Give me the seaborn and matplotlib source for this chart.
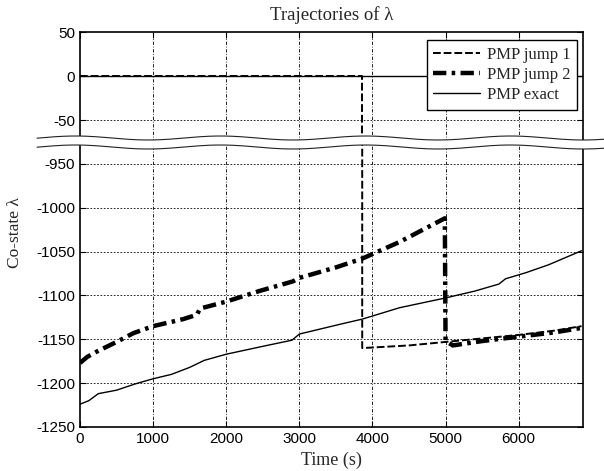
import numpy as np
import pandas as pd
import seaborn as sns
import matplotlib.pyplot as plt
from matplotlib.patches import Polygon
from matplotlib.lines import Line2D

# values
t_exact = [0, 120, 250, 500, 750, 1000, 1250, 1500, 1600, 1700, 2000, 2500, 2900, 3000,
           3300, 3600, 3860, 4370, 4990, 5400, 5730, 5820, 6100, 6410, 6860]
y_exact = [-1224, -1220, -1212, -1208, -1201, -1195, -1190, -1182, -1178, -1174, -1167, -1158, -1151, -1144,
           -1138, -1132, -1127, -1114, -1103, -1095, -1087, -1081, -1074, -1065, -1049]

t_jump1 = [0, 3860, 3860, 4500, 5000, 5500, 6000, 6500, 6860]
y_jump1 = [0, 0, -1160, -1157, -1153, -1149, -1145, -1140, -1135]

t_jump2 = [0, 100, 230, 500, 730, 1000, 1410, 1600, 1640, 2000, 2450, 2910, 3000, 3500, 3860,
           4370, 4600, 4990, 5000, 5100, 5500, 6000, 6500, 6860]
y_jump2 = [-1177, -1170, -1164, -1153, -1143, -1135, -1127, -1122, -1115, -1107, -1095, -1084, -1080, -1068, -1058,
           -1039, -1029, -1012, -1152, -1157, -1152, -1147, -1142, -1137]

x_ticks = [0, 1000, 2000, 3000, 4000, 5000, 6000]
top_ticks = [50, 0, -50]
bottom_ticks = [-950, -1000, -1050, -1100, -1150, -1200, -1250]

sns.set_style('ticks')
plt.rcParams['font.family'] = ['Liberation Sans', 'DejaVu Sans']
plt.rcParams['axes.unicode_minus'] = False
serif = ['Liberation Serif', 'DejaVu Serif']

fig = plt.figure(figsize=(6.04, 4.71), dpi=100)
L, R = 80 / 604, 583 / 604
y_top, y_mid, y_bot = 1 - 32 / 471, 1 - 142 / 471, 1 - 427 / 471
ax_top = fig.add_axes([L, y_mid, R - L, y_top - y_mid])
ax_bot = fig.add_axes([L, y_bot, R - L, y_mid - y_bot])

grid_h = dict(color='black', lw=0.6, ls=(0, (2, 2)))
grid_v = dict(color='black', lw=0.6, ls=(0, (4, 2, 1, 2)))

for ax in (ax_top, ax_bot):
    for xv in x_ticks[1:]:
        ax.axvline(xv, zorder=0, **grid_v)
    sns.lineplot(x=t_jump1, y=y_jump1, ax=ax, estimator=None, sort=False,
                 color='black', lw=1.4, ls=(0, (4, 1.5)), label='PMP jump 1', legend=False)
    sns.lineplot(x=t_jump2, y=y_jump2, ax=ax, estimator=None, sort=False,
                 color='black', lw=3.2, ls=(0, (3, 1.2, 0.8, 1.2)), label='PMP jump 2', legend=False)
    sns.lineplot(x=t_exact, y=y_exact, ax=ax, estimator=None, sort=False,
                 color='black', lw=1.0, label='PMP exact', legend=False)
    ax.set_xlim(0, 6880)
    ax.set_xlabel('')
    ax.set_ylabel('')
    ax.tick_params(direction='in', length=4, labelsize=11, colors='black')
    ax.tick_params(top=True, right=True)
    for s in ax.spines.values():
        s.set_linewidth(1.2)
        s.set_color('black')

# exact solution reference level at zero in the upper panel
ax_top.axhline(0, color='black', lw=1.0, zorder=1)

ax_top.set_ylim(-75, 50)
ax_top.set_yticks(top_ticks)
ax_top.axhline(-50, zorder=0, **grid_h)
ax_top.set_xticks(x_ticks)
ax_top.tick_params(labelbottom=False, bottom=False)
ax_top.spines['bottom'].set_visible(False)

ax_bot.set_ylim(-1250, -925)
ax_bot.set_yticks(bottom_ticks)
for yv in bottom_ticks[:-1]:
    ax_bot.axhline(yv, zorder=0, **grid_h)
ax_bot.set_xticks(x_ticks)
ax_bot.tick_params(top=False)
ax_bot.spines['top'].set_visible(False)

fig.text((L + R) / 2, 1 - 15 / 471, 'Trajectories of λ', family=serif, fontsize=13.5,
         ha='center', va='center')
fig.text((L + R) / 2, 1 - 460 / 471, 'Time (s)', family=serif, fontsize=13,
         ha='center', va='center')
fig.text(15 / 604, 1 - 233 / 471, 'Co-state λ', family=serif, fontsize=12.5,
         rotation=90, va='center', ha='center')

h, lab = ax_top.get_legend_handles_labels()
leg = ax_top.legend(h[:3], lab[:3], loc='upper right', prop={'family': serif, 'size': 12},
                    frameon=True, fancybox=False, edgecolor='black', framealpha=1,
                    bbox_to_anchor=(577 / 604, 1 - 40 / 471), bbox_transform=fig.transFigure,
                    borderaxespad=0, handlelength=2.8, handletextpad=0.4, labelspacing=0.25,
                    borderpad=0.4)
leg.get_frame().set_linewidth(1.0)
leg.set_zorder(12)

# wavy axis break band
xs = np.linspace(37, 604, 300)
wave = 2.0 * np.cos(2 * np.pi * (xs - 583) / 145)
y1 = 138 + wave
y2 = 147 + wave
poly_pts = np.column_stack([np.r_[xs, xs[::-1]] / 604, 1 - np.r_[y1, y2[::-1]] / 471])
fig.add_artist(Polygon(poly_pts, closed=True, facecolor='white', edgecolor='none',
                       transform=fig.transFigure, zorder=10))
for yy in (y1, y2):
    fig.add_artist(Line2D(xs / 604, 1 - yy / 471, color='#222222', lw=0.8,
                          transform=fig.transFigure, zorder=11))

fig.savefig('out.png', dpi=100)
